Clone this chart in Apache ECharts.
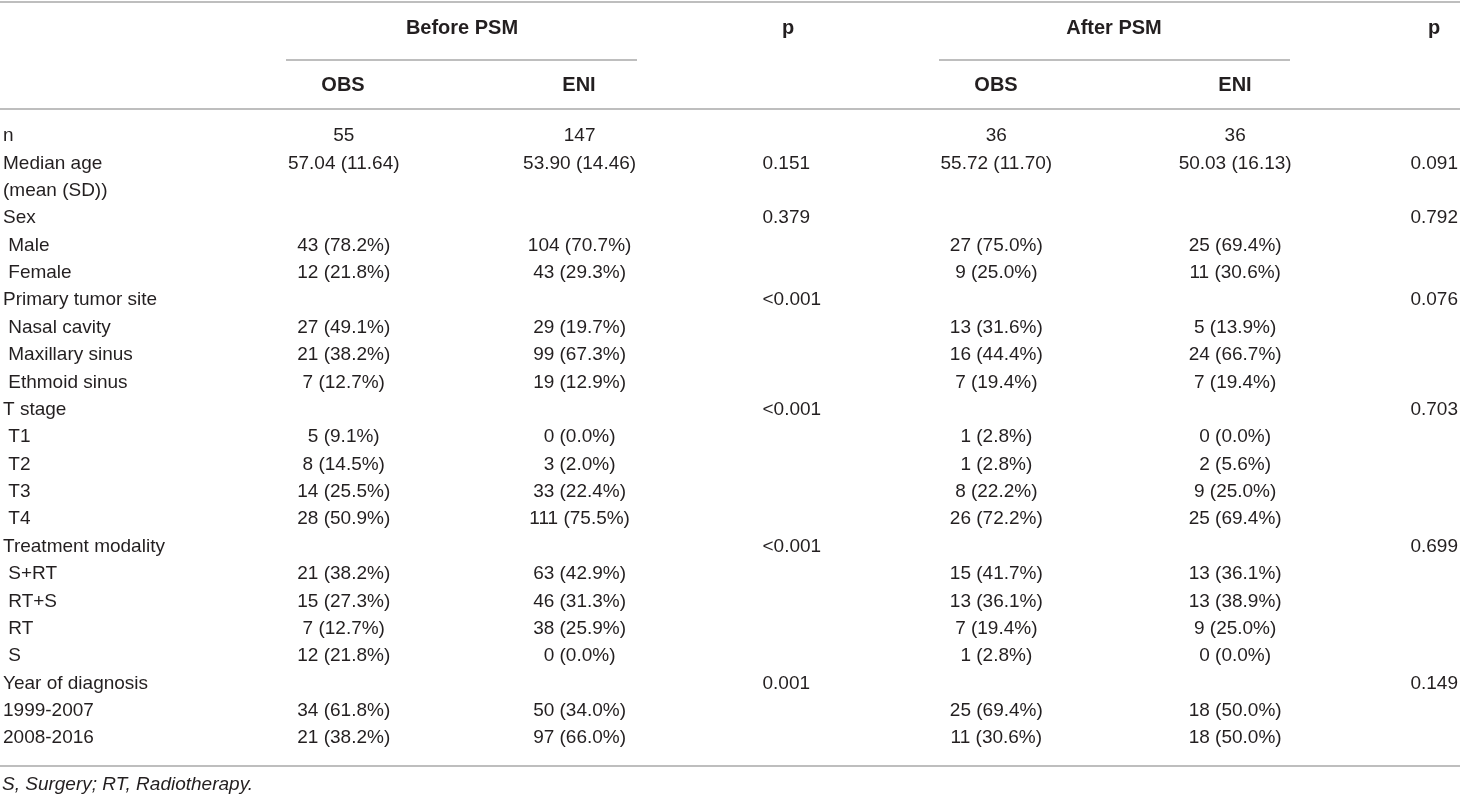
<!DOCTYPE html>
<html><head><meta charset="utf-8">
<script src="https://cdn.jsdelivr.net/npm/echarts@6/dist/echarts.min.js"></script>
<style>html,body{margin:0;padding:0;background:#fff}#c{width:1460px;height:794px}</style>
</head><body><div id="c"></div>
<script>
// ---- data ----
const rowLabels = ['n','Median age','(mean (SD))','Sex',' Male',' Female','Primary tumor site',' Nasal cavity',' Maxillary sinus',' Ethmoid sinus','T stage',' T1',' T2',' T3',' T4','Treatment modality',' S+RT',' RT+S',' RT',' S','Year of diagnosis','1999-2007','2008-2016'];
const obsBefore = ['55','57.04 (11.64)','','','43 (78.2%)','12 (21.8%)','','27 (49.1%)','21 (38.2%)','7 (12.7%)','','5 (9.1%)','8 (14.5%)','14 (25.5%)','28 (50.9%)','','21 (38.2%)','15 (27.3%)','7 (12.7%)','12 (21.8%)','','34 (61.8%)','21 (38.2%)'];
const eniBefore = ['147','53.90 (14.46)','','','104 (70.7%)','43 (29.3%)','','29 (19.7%)','99 (67.3%)','19 (12.9%)','','0 (0.0%)','3 (2.0%)','33 (22.4%)','111 (75.5%)','','63 (42.9%)','46 (31.3%)','38 (25.9%)','0 (0.0%)','','50 (34.0%)','97 (66.0%)'];
const pBefore = ['','0.151','','0.379','','','<0.001','','','','<0.001','','','','','<0.001','','','','','0.001','',''];
const obsAfter = ['36','55.72 (11.70)','','','27 (75.0%)','9 (25.0%)','','13 (31.6%)','16 (44.4%)','7 (19.4%)','','1 (2.8%)','1 (2.8%)','8 (22.2%)','26 (72.2%)','','15 (41.7%)','13 (36.1%)','7 (19.4%)','1 (2.8%)','','25 (69.4%)','11 (30.6%)'];
const eniAfter = ['36','50.03 (16.13)','','','25 (69.4%)','11 (30.6%)','','5 (13.9%)','24 (66.7%)','7 (19.4%)','','0 (0.0%)','2 (5.6%)','9 (25.0%)','25 (69.4%)','','13 (36.1%)','13 (38.9%)','9 (25.0%)','0 (0.0%)','','18 (50.0%)','18 (50.0%)'];
const pAfter = ['','0.091','','0.792','','','0.076','','','','0.703','','','','','0.699','','','','','0.149','',''];
const groupHeaders = ['Before PSM','After PSM'];
const colHeaders = ['OBS','ENI','p','OBS','ENI','p'];
const footnote = 'S, Surgery; RT, Radiotherapy.';

// ---- layout ----
const W = 1460, H = 794;
const pitch = 27.37, firstRowY = 136;
const gridTop = firstRowY - pitch / 2;
const gridH = pitch * rowLabels.length;
const FONT = 'Liberation Sans, Arial, sans-serif';
const TXT = '#231f20';
const RULE = '#a8a8a8';
const columns = [
  { vals: obsBefore, x: 343, align: 'center' },
  { vals: eniBefore, x: 579, align: 'center' },
  { vals: pBefore, x: 762, align: 'left' },
  { vals: obsAfter, x: 996, align: 'center' },
  { vals: eniAfter, x: 1235, align: 'center' },
  { vals: pAfter, x: 1458, align: 'right' }
];
const headerPos = [
  { x: 343, align: 'center' }, { x: 579, align: 'center' }, { x: 788, align: 'center' },
  { x: 996, align: 'center' }, { x: 1235, align: 'center' }, { x: 1434, align: 'center' }
];
const groupPos = [462, 1114];
const underlines = [[286, 637], [939, 1290]];

const series = columns.map(c => ({
  type: 'scatter',
  symbolSize: 0,
  silent: true,
  itemStyle: { opacity: 1 },
  data: c.vals.map((v, i) => v ? { value: [c.x, i], name: v } : null).filter(Boolean),
  label: {
    show: true, position: 'inside', formatter: '{b}', align: c.align, verticalAlign: 'middle',
    fontFamily: FONT, fontSize: 19, color: TXT, opacity: 1, textBorderWidth: 0
  }
}));

const graphic = [];
function line(x1, y, x2) {
  graphic.push({ type: 'line', shape: { x1, y1: y, x2, y2: y }, style: { stroke: RULE, lineWidth: 1.5 }, silent: true });
}
line(0, 2, W); line(0, 109, W); line(0, 766, W);
underlines.forEach(u => line(u[0], 60, u[1]));
groupHeaders.forEach((t, i) => graphic.push({
  type: 'text', x: groupPos[i], y: 28,
  style: { text: t, font: 'bold 20px ' + FONT, fill: TXT, textAlign: 'center', textVerticalAlign: 'middle' }
}));
colHeaders.forEach((t, i) => graphic.push({
  type: 'text', x: headerPos[i].x, y: t === 'p' ? 28 : 85,
  style: { text: t, font: 'bold 20px ' + FONT, fill: TXT, textAlign: headerPos[i].align, textVerticalAlign: 'middle' }
}));
graphic.push({
  type: 'text', x: 2, y: 785,
  style: { text: footnote, font: 'italic 19px ' + FONT, fill: TXT, textAlign: 'left', textVerticalAlign: 'middle' }
});

const chart = echarts.init(document.getElementById('c'), null, { renderer: 'canvas' });
chart.setOption({
  animation: false,
  backgroundColor: '#fff',
  grid: { left: 0, right: 0, top: gridTop, height: gridH, containLabel: false },
  xAxis: { type: 'value', min: 0, max: W, show: false },
  yAxis: {
    type: 'category', data: rowLabels, inverse: true,
    axisLine: { show: false }, axisTick: { show: false }, splitLine: { show: false },
    axisLabel: { inside: true, align: 'left', margin: 2, interval: 0, fontFamily: FONT, fontSize: 19, color: TXT }
  },
  series,
  graphic
});
</script>
</body></html>
